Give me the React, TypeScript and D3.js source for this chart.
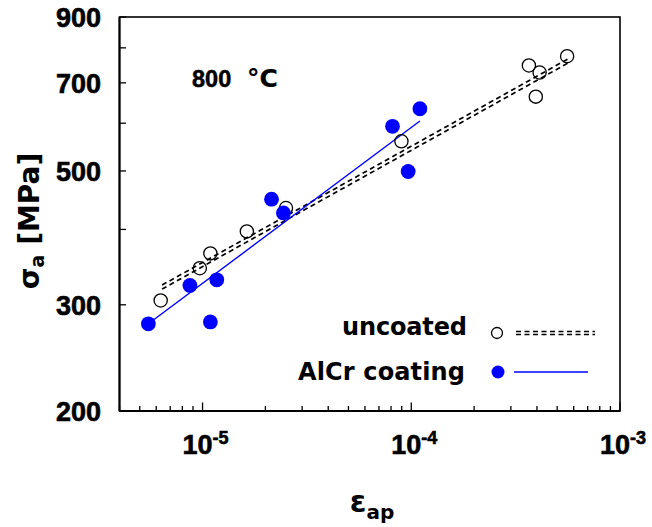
import React from 'react';
import * as d3 from 'd3';

// ---- data ----
const uncoatedStrain = [6.3e-6, 9.7e-6, 1.09e-5, 1.63e-5, 2.51e-5, 8.97e-5, 3.66e-4, 4.12e-4, 3.95e-4, 5.58e-4];
const uncoatedStress = [305, 345, 365, 397, 434, 560, 748, 728, 664, 775];
const coatedStrain = [5.5e-6, 8.7e-6, 1.09e-5, 1.17e-5, 2.14e-5, 2.44e-5, 8.13e-5, 1.1e-4, 9.66e-5];
const coatedStress = [279, 323, 281, 330, 449, 426, 593, 634, 499];
const coatedFitStrain = [5.5e-6, 1.1e-4];
const coatedFitStress = [279, 605];
const uncoatedFitStrain = [6.4e-6, 5.6e-4];
const uncoatedFitLower = [318.5, 754];
const uncoatedFitUpper = [323.5, 766];
const yTickValues = [200, 300, 400, 500, 600, 700, 800, 900];
const yTickLabels = [200, 300, 500, 700, 900];
const xMajorTicks = [1e-5, 1e-4, 1e-3];
const xMajorExponents = ['-5', '-4', '-3'];
const legendLabels = ['uncoated', 'AlCr coating'];

const W = 652;
const H = 527;
const L = 119.5, R = 620, T = 17, B = 411;
const FONT = '"Liberation Sans", Arial, Helvetica, sans-serif';
const FONT2 = '"DejaVu Sans", Verdana, sans-serif';
const BLUE = '#0000ff';

export default function App() {
  const x = d3.scaleLog().domain([4e-6, 1e-3]).range([L, R]);
  const y = d3.scaleLog().domain([200, 900]).range([B, T]);
  const line = d3.line<[number, number]>().x(d => x(d[0])).y(d => y(d[1]));
  const zip = (a: number[], b: number[]) => a.map((v, i) => [v, b[i]] as [number, number]);

  const minorX = x.ticks(30).filter(t => !xMajorTicks.some(m => Math.abs(m - t) / m < 1e-6));

  return (
    <svg width={W} height={H} style={{ position: 'absolute', left: 0, top: 0, background: '#fff' }} fontFamily={FONT} fontWeight="bold">
      <rect x={0} y={0} width={W} height={H} fill="#fff" />
      {/* frame */}
      <rect x={L} y={T} width={R - L} height={B - T} fill="none" stroke="#000" strokeWidth={1.6} />
      <line x1={L} x2={L} y1={T} y2={B} stroke="#000" strokeWidth={2} />
      <line x1={L} x2={R} y1={B} y2={B} stroke="#000" strokeWidth={2} />

      {/* y ticks */}
      {yTickValues.map(v => (
        <line key={'yt' + v} x1={L} x2={L + 6.5} y1={y(v)} y2={y(v)} stroke="#000" strokeWidth={1.3} />
      ))}
      {yTickLabels.map(v => (
        <text key={'yl' + v} x={101} y={y(v) + 10} textAnchor="end" fontSize={27} stroke="#000" strokeWidth={0.6}>{v}</text>
      ))}

      {/* x ticks */}
      {minorX.map(v => (
        <line key={'xm' + v} x1={x(v)} x2={x(v)} y1={B} y2={B - 5} stroke="#000" strokeWidth={1.3} />
      ))}
      {xMajorTicks.map(v => (
        <line key={'xM' + v} x1={x(v)} x2={x(v)} y1={B} y2={B - 8.5} stroke="#000" strokeWidth={1.3} />
      ))}
      {xMajorTicks.map((v, i) => (
        <text key={'xl' + v} x={x(v) + 3} y={454} textAnchor="middle" fontSize={27} stroke="#000" strokeWidth={0.6}>
          10<tspan fontSize={18} dy={-10}>{xMajorExponents[i]}</tspan>
        </text>
      ))}

      {/* axis titles */}
      <text x={372} y={512} textAnchor="middle" fontSize={30} fontFamily={FONT2}>
        ε<tspan fontSize={20} dy={7}>ap</tspan>
      </text>
      <text transform="translate(39,221) rotate(-90)" textAnchor="middle" fontSize={28} fontFamily={FONT2}>
        σ<tspan fontSize={19} dy={5}>a</tspan><tspan dy={-5}> [MPa]</tspan>
      </text>

      {/* annotation */}
      <text y={87} fontSize={23.5} stroke="#000" strokeWidth={0.5}>
        <tspan x={192}>800</tspan>
        <tspan x={247} fontFamily={FONT2} fontSize={25} strokeWidth={0.2}>°C</tspan>
      </text>

      {/* fits */}
      <path d={line(zip(uncoatedFitStrain, uncoatedFitLower)) || ''} fill="none" stroke="#000" strokeWidth={1.7} strokeDasharray="5,3.5" />
      <path d={line(zip(uncoatedFitStrain, uncoatedFitUpper)) || ''} fill="none" stroke="#000" strokeWidth={1.7} strokeDasharray="5,3.5" />
      <path d={line(zip(coatedFitStrain, coatedFitStress)) || ''} fill="none" stroke={BLUE} strokeWidth={1.4} />

      {/* points */}
      {zip(uncoatedStrain, uncoatedStress).map((d, i) => (
        <circle key={'u' + i} cx={x(d[0])} cy={y(d[1])} r={6.6} fill="none" stroke="#000" strokeWidth={1.3} />
      ))}
      {zip(coatedStrain, coatedStress).map((d, i) => (
        <circle key={'c' + i} cx={x(d[0])} cy={y(d[1])} r={7.4} fill={BLUE} />
      ))}

      {/* legend */}
      <text x={467} y={335} textAnchor="end" fontSize={24} fontFamily={FONT2} textLength={125} lengthAdjust="spacing">{legendLabels[0]}</text>
      <circle cx={497} cy={333} r={5.5} fill="none" stroke="#000" strokeWidth={1.3} />
      <line x1={516} x2={595} y1={331.5} y2={331.5} stroke="#000" strokeWidth={1.5} strokeDasharray="5,3.5" />
      <line x1={516} x2={595} y1={334.5} y2={334.5} stroke="#000" strokeWidth={1.5} strokeDasharray="5,3.5" />

      <text x={465} y={380} textAnchor="end" fontSize={24} fontFamily={FONT2} textLength={167} lengthAdjust="spacing">{legendLabels[1]}</text>
      <circle cx={498} cy={372} r={6.5} fill={BLUE} />
      <line x1={514} x2={588} y1={372} y2={372} stroke={BLUE} strokeWidth={1.6} />
    </svg>
  );
}
